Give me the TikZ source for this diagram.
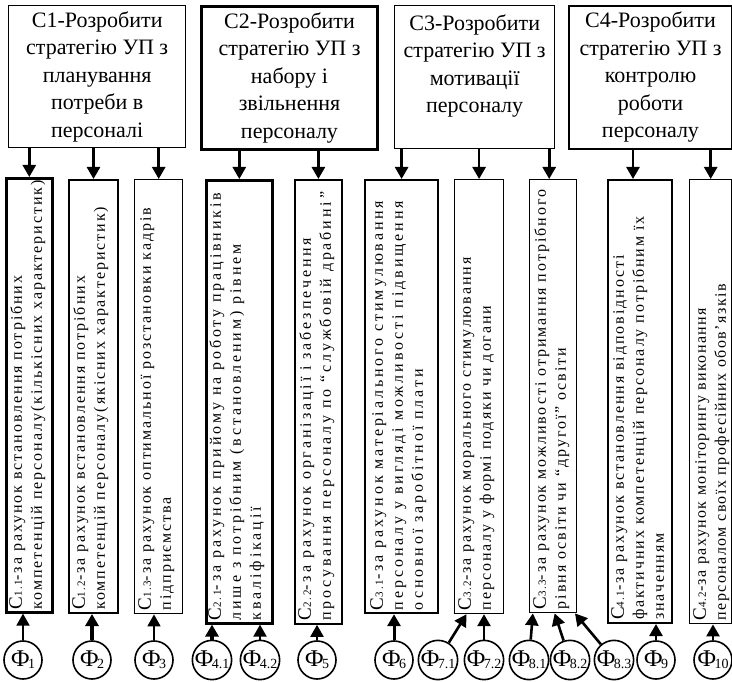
\documentclass[tikz,border=0pt]{standalone}
\usepackage{fontspec}
\setmainfont{Liberation Serif}
\newfontfamily\mfont{Liberation Serif}
\newfontfamily\vfont[LetterSpace=12]{Liberation Serif}
\newfontfamily\vfontw[LetterSpace=18]{Liberation Serif}
\newfontfamily\vfontn[LetterSpace=9]{Liberation Serif}
\usetikzlibrary{arrows.meta,positioning,calc}

\tikzset{
  goal/.style={draw,line width=1.4pt,inner sep=0pt,anchor=north west,align=center,
    font=\mfont\fontsize{22}{27.5}\selectfont},
  way/.style={draw,line width=1.4pt,anchor=north west,inner sep=0pt},
  wtext/.style={rotate=90,anchor=north west,align=left,inner sep=0pt,
    font=\vfont\fontsize{16}{20}\selectfont},
  wide/.style={font=\vfontw\fontsize{16}{20}\selectfont},
  narrow/.style={font=\vfontn\fontsize{16}{20}\selectfont},
  fac/.style={circle,draw,line width=1.6pt,minimum size=38pt,inner sep=0pt,
    font=\mfont\fontsize{24}{24}\selectfont},
  arr/.style={line width=2.6pt,-{Triangle[length=12pt,width=13pt]}},
}
\newcommand{\cnum}[1]{{\fontsize{19}{19}\selectfont С}{\fontsize{11}{11}\selectfont #1}}
\newcommand{\fnum}[1]{Ф\kern-1.5pt\raisebox{-2pt}{\fontsize{14}{14}\selectfont #1}}

\begin{document}
\begin{tikzpicture}[x=1pt,y=-1pt]
\useasboundingbox (0,0) rectangle (732,682);

% strategies
\node[goal,minimum width=177pt,minimum height=142pt] (c1) at (8,5)
  {С1-Розробити\\стратегію УП з\\планування\\потреби в\\персоналі};
\node[goal,line width=3pt,minimum width=176pt,minimum height=143pt] (c2) at (200,5)
  {С2-Розробити\\стратегію УП з\\набору і\\звільнення\\персоналу};
\node[goal,minimum width=160pt,minimum height=143pt] (c3) at (394,5)
  {С3-Розробити\\стратегію УП з\\мотивації\\персоналу\\\mbox{}};
\node[goal,line width=2pt,minimum width=163pt,minimum height=143pt] (c4) at (568,5)
  {С4-Розробити\\стратегію УП з\\контролю\\роботи\\персоналу};

% ways
\node[way,line width=2.6pt,minimum width=46pt,minimum height=434pt] (b1) at (5,177) {};
\node[way,line width=2pt,minimum width=49pt,minimum height=433pt] (b2) at (68,179) {};
\node[way,minimum width=48pt,minimum height=434pt] (b3) at (134,179) {};
\node[way,line width=2.6pt,minimum width=66pt,minimum height=443pt] (b4) at (205,179) {};
\node[way,line width=1.8pt,minimum width=47pt,minimum height=444pt] (b5) at (294,179) {};
\node[way,line width=2.2pt,minimum width=73pt,minimum height=433pt] (b6) at (364,179) {};
\node[way,line width=1.2pt,minimum width=49pt,minimum height=434pt] (b7) at (454,179) {};
\node[way,minimum width=47pt,minimum height=433pt] (b8) at (529,179) {};
\node[way,line width=2pt,minimum width=64pt,minimum height=443pt] (b9) at (607,179) {};
\node[way,minimum width=42pt,minimum height=444pt] (b10) at (689,179) {};

\node[wtext] (t1) at ($(b1.south west)+(4,-4)$)
  {\cnum{1.1}-за рахунок встановлення потрібних\\компетенцій персоналу(кількісних характеристик)};
\node[wtext] (t2) at ($(b2.south west)+(4,-4)$)
  {\cnum{1.2}-за рахунок встановлення потрібних\\компетенцій персоналу(якісних характеристик)};
\node[wtext] (t3) at ($(b3.south west)+(4,-4)$)
  {\cnum{1.3}-за рахунок оптимальної розстановки кадрів\\підприємства};
\node[wtext,wide] (t4) at ($(b4.south west)+(3,-4)$)
  {\cnum{2.1}-за рахунок прийому на роботу працівників\\лише з потрібним (встановленим) рівнем\\кваліфікації};
\node[wtext,wide] (t5) at ($(b5.south west)+(4,-4)$)
  {\cnum{2.2}-за рахунок організації і забезпечення\\просування персоналу по “службовій драбині”};
\node[wtext,wide] (t6) at ($(b6.south west)+(6,-4)$)
  {\cnum{3.1}-за рахунок матеріального стимулювання\\персоналу у вигляді можливості підвищення\\основної заробітної плати};
\node[wtext] (t7) at ($(b7.south west)+(4,-4)$)
  {\cnum{3.2}-за рахунок морального стимулювання\\персоналу у формі подяки чи догани};
\node[wtext] (t8) at ($(b8.south west)+(4,-4)$)
  {\cnum{3.3}-за рахунок можливості отримання потрібного\\рівня освіти чи “другої” освіти};
\node[wtext] (t9) at ($(b9.south west)+(4,-4)$)
  {\cnum{4.1}-за рахунок встановлення відповідності\\фактичних компетенцій персоналу потрібним їх\\значенням};
\node[wtext,narrow] (t10) at ($(b10.south west)+(4,-4)$)
  {\cnum{4.2}-за рахунок моніторингу виконання\\персоналом своїх професійних обов’язків};

% factors
\node[fac] (f1) at (23,660) {\fnum{1}};
\node[fac] (f2) at (92,660) {\fnum{2}};
\node[fac] (f3) at (154,660) {\fnum{3}};
\node[fac] (f41) at (212,660) {\fnum{4.1}};
\node[fac] (f42) at (260,660) {\fnum{4.2}};
\node[fac] (f5) at (317,660) {\fnum{5}};
\node[fac] (f6) at (394,660) {\fnum{6}};
\node[fac] (f71) at (438,660) {\fnum{7.1}};
\node[fac] (f72) at (484,660) {\fnum{7.2}};
\node[fac] (f81) at (529,660) {\fnum{8.1}};
\node[fac] (f82) at (570,660) {\fnum{8.2}};
\node[fac] (f83) at (614,660) {\fnum{8.3}};
\node[fac] (f9) at (656,660) {\fnum{9}};
\node[fac] (f10) at (713,660) {\fnum{10}};

% strategy -> way
\coordinate (a8) at ($(b8.north)+(-4,0)$);
\coordinate (a9) at ($(b9.north)+(-7,0)$);
\draw[arr] (c1.south -| b1.north) -- (b1.north);
\draw[arr] (c1.south -| b2.north) -- (b2.north);
\draw[arr] (c1.south -| b3.north) -- (b3.north);
\draw[arr] (c2.south -| b4.north) -- (b4.north);
\draw[arr] (c2.south -| b5.north) -- (b5.north);
\draw[arr] (c3.south -| b6.north) -- (b6.north);
\draw[arr] (c3.south -| b7.north) -- (b7.north);
\draw[arr] (c3.south -| a8) -- (a8);
\draw[arr] (c4.south -| a9) -- (a9);
\draw[arr] (c4.south -| b10.north) -- (b10.north);

% factor -> way
\draw[arr,line width=1.8pt] (f1) -- (f1 |- b1.south);
\draw[arr,line width=3.4pt] (f2) -- (f2 |- b2.south);
\draw[arr,line width=1.6pt] (f3) -- (f3 |- b3.south);
\draw[arr,line width=3.4pt] (f41) -- (f41 |- b4.south);
\draw[arr,line width=2pt] (f42) -- (f42 |- b4.south);
\draw[arr,line width=2pt] (f5) -- (f5 |- b5.south);
\draw[arr,line width=3pt] (f6) -- (f6 |- b6.south);
\draw[arr] (f71) -- ($(b7.south west)!0.25!(b7.south east)$);
\draw[arr] (f72) -- (f72 |- b7.south);
\draw[arr] (f81) -- ($(b8.south west)!0.08!(b8.south east)$);
\draw[arr] (f82) -- ($(b8.south west)!0.53!(b8.south east)$);
\draw[arr] (f83) -- ($(b8.south west)!0.95!(b8.south east)$);
\draw[arr] (f9) -- (f9 |- b9.south);
\draw[arr] (f10) -- (f10 |- b10.south);
\end{tikzpicture}
\end{document}
